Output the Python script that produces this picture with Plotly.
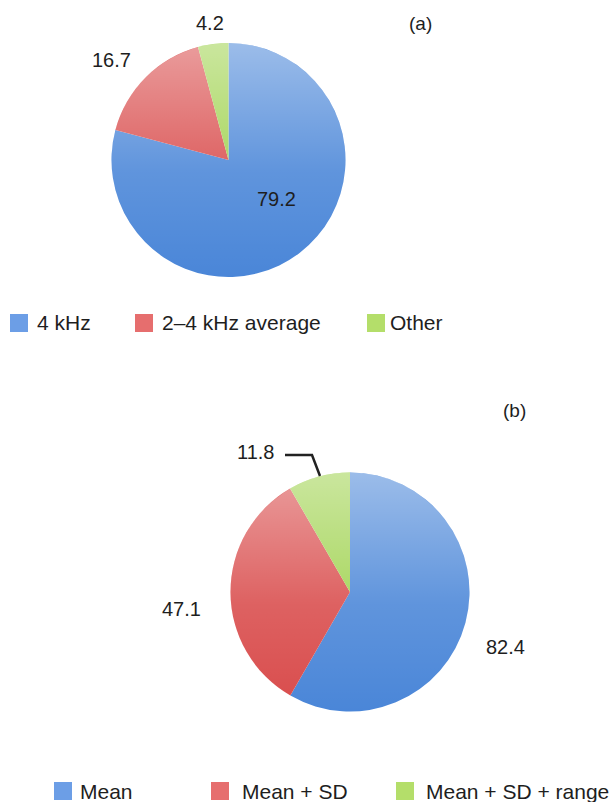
import base64
import plotly.graph_objects as go

# ---- data -------------------------------------------------------------
labels_a = ["4 kHz", "2\u20134 kHz average", "Other"]
values_a = [79.2, 16.7, 4.2]

labels_b = ["Mean", "Mean + SD", "Mean + SD + range"]
values_b = [82.4, 47.1, 11.8]

colors = ["#4a86d8", "#d94c4c", "#9fd24e"]
legend_colors = ["#6c9ee6", "#e66e6e", "#b4de6a"]

W, H = 613, 802
FONT = "Liberation Sans, Arial, Helvetica, sans-serif"
INK = "#1e1e1e"


def px(x):
    return x / W


def py(y):
    return 1 - y / H


# pie geometry in pixels: centre x, centre y, radius
geo_a = (228.5, 160, 117)
geo_b = (350, 592, 119.5)


def domain(g):
    cx, cy, r = g
    return dict(x=[px(cx - r), px(cx + r)], y=[py(cy + r), py(cy - r)])


fig = go.Figure()
for labels, values, g in ((labels_a, values_a, geo_a), (labels_b, values_b, geo_b)):
    fig.add_trace(go.Pie(
        labels=labels, values=values, domain=domain(g),
        sort=False, direction="clockwise", rotation=0,
        marker=dict(colors=colors, line=dict(width=0)),
        textinfo="none", hoverinfo="label+value", showlegend=False,
    ))

# soft vertical sheen over each pie (light at top, fading downwards)
svg = (
    "<svg xmlns='http://www.w3.org/2000/svg' width='200' height='200' viewBox='0 0 200 200'>"
    "<defs><linearGradient id='g' x1='0' y1='0' x2='0' y2='1'>"
    "<stop offset='0' stop-color='#ffffff' stop-opacity='0.45'/>"
    "<stop offset='0.55' stop-color='#ffffff' stop-opacity='0.12'/>"
    "<stop offset='1' stop-color='#ffffff' stop-opacity='0'/>"
    "</linearGradient></defs>"
    "<circle cx='100' cy='100' r='100' fill='url(#g)'/></svg>"
)
sheen = "data:image/svg+xml;base64," + base64.b64encode(svg.encode()).decode()
images = []
for g in (geo_a, geo_b):
    cx, cy, r = g
    images.append(dict(source=sheen, xref="paper", yref="paper",
                       x=px(cx - r), y=py(cy - r), sizex=2 * r / W, sizey=2 * r / H,
                       xanchor="left", yanchor="top", sizing="stretch", layer="above"))

annotations = []
shapes = []


def label(text, x, y, size=20, anchor="center"):
    annotations.append(dict(text=text, x=px(x), y=py(y), xref="paper", yref="paper",
                            xanchor=anchor, yanchor="middle", showarrow=False,
                            font=dict(family=FONT, size=size, color=INK)))


# value labels, panel (a)
pos_a = [(276, 199), (111, 60), (210, 23)]
for v, (x, y) in zip(values_a, pos_a):
    label(f"{v:.1f}", x, y)
label("(a)", 420, 23, size=19)

# value labels, panel (b)
pos_b = [(505, 647), (181, 609), (255, 452)]
for v, (x, y) in zip(values_b, pos_b):
    label(f"{v:.1f}", x, y)
label("(b)", 514, 410, size=19)

# leader line for the small slice in (b)
shapes.append(dict(
    type="path", xref="paper", yref="paper",
    path=f"M{px(285)},{py(455)} L{px(312)},{py(455)} L{px(320)},{py(476)}",
    line=dict(color="#222222", width=2.5),
))

# legends
legend_rows = [
    (labels_a, 323, [(10, 37), (135, 162), (367, 390)], 18),
    (labels_b, 791, [(54, 80), (211, 242), (396, 426)], 18),
]
for labels, yc, slots, s in legend_rows:
    for lab, col, (sx, tx) in zip(labels, legend_colors, slots):
        shapes.append(dict(type="rect", xref="paper", yref="paper",
                           x0=px(sx), x1=px(sx + s), y0=py(yc + s / 2), y1=py(yc - s / 2),
                           fillcolor=col, line=dict(width=0)))
        label(lab, tx - 2, yc, size=21, anchor="left")

fig.update_layout(
    width=W, height=H,
    margin=dict(l=0, r=0, t=0, b=0),
    paper_bgcolor="white", plot_bgcolor="white",
    font=dict(family=FONT, color=INK),
    annotations=annotations, shapes=shapes, images=images,
    showlegend=False,
)

fig.write_html("out.html")
